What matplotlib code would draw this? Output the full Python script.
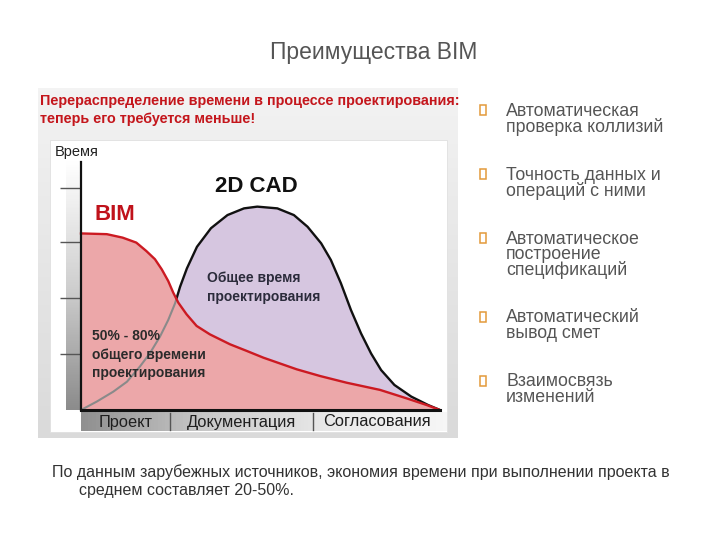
import numpy as np
import matplotlib
matplotlib.use("Agg")
import matplotlib.pyplot as plt
import matplotlib.transforms as mtrans
from matplotlib.patches import Rectangle
from matplotlib.colors import LinearSegmentedColormap

# ---------------- data ----------------
bim_x = [0.0, 7.2, 11.6, 15.4, 18.2, 20.6, 22.5, 24.3, 25.7, 27.1, 29.4, 32.2, 35.9,
         41.5, 46.2, 50.8, 60.1, 66.6, 74.0, 83.3, 90.7, 96.3, 100.0]
bim_y = [71.2, 70.9, 69.5, 67.5, 64.1, 60.8, 56.7, 52.0, 47.3, 43.3, 38.6, 33.9, 30.5,
         26.5, 23.8, 21.1, 16.4, 13.7, 11.0, 8.1, 4.7, 2.0, 0.0]

cad_x = [0.0, 4.4, 9.0, 12.8, 16.4, 19.2, 22.0, 24.3, 26.2, 27.6, 29.5, 32.3, 36.2,
         40.8, 45.4, 49.1, 54.7, 59.3, 63.1, 66.9, 69.6, 72.4, 75.2, 78.0, 80.8,
         83.6, 87.3, 92.0, 96.7, 100.0]
cad_y = [0.0, 3.4, 7.4, 11.4, 17.5, 22.9, 29.6, 36.3, 43.0, 49.7, 57.1, 65.8, 73.3,
         78.6, 81.3, 82.0, 81.3, 78.6, 73.9, 67.2, 60.5, 51.1, 40.3, 30.9, 22.8,
         16.1, 10.1, 5.4, 2.0, 0.0]

phases = ["Проект", "Документация", "Согласования"]
phase_edges = [0.0, 24.8, 64.6, 100.0]
tick_levels = [22.6, 45.2, 67.7, 89.5]

title = "Преимущества BIM"
header = ["Перераспределение времени в процессе проектирования:",
          "теперь его требуется меньше!"]
bullets = ["Автоматическая\nпроверка коллизий",
           "Точность данных и\nопераций с ними",
           "Автоматическое\nпостроение\nспецификаций",
           "Автоматический\nвывод смет",
           "Взаимосвязь\nизменений"]
bullet_y = [110, 174, 238, 317, 381]
footer = ["По данным зарубежных источников, экономия времени при выполнении проекта в",
          "среднем составляет 20-50%."]

# ---------------- figure ----------------
W, H = 720, 540
fig = plt.figure(figsize=(7.2, 5.4), dpi=100)
fig.patch.set_facecolor("white")

bg = fig.add_axes([0, 0, 1, 1])
bg.set_xlim(0, W)
bg.set_ylim(H, 0)
bg.axis("off")

sans = ["Liberation Sans", "DejaVu Sans"]

# title
bg.text(374, 52, title, ha="center", va="center", fontsize=16.5, color="#555555",
        family=sans)

# embedded picture background
grad = np.linspace(0, 1, 100).reshape(-1, 1)
cm_bg = LinearSegmentedColormap.from_list("bgc", ["#f3f3f3", "#e6e6e6", "#dadada"])
bg.imshow(grad, extent=(38, 458, 438, 88), cmap=cm_bg, aspect="auto", zorder=0)
bg.add_patch(Rectangle((50, 140), 397, 292, facecolor="white", edgecolor="#e0e0e0",
                       lw=0.6, zorder=1))

for i, line in enumerate(header):
    bg.text(40, 101 + 17.5 * i, line, ha="left", va="center", fontsize=10.4,
            fontweight="bold", color="#c4161c", family=sans, zorder=2)

# gradient bar left of y axis
grad_v = np.linspace(0, 1, 100).reshape(-1, 1)
cm_v = LinearSegmentedColormap.from_list("v", ["#ffffff", "#d0d0d0", "#8c8c8c"])
bg.imshow(grad_v, extent=(66, 81, 410, 160), cmap=cm_v, aspect="auto", zorder=1.5)

# bottom phase bar
grad_h = np.linspace(0, 1, 100).reshape(1, -1)
cm_h = LinearSegmentedColormap.from_list("h", ["#909090", "#c8c8c8", "#e8e8e8", "#f6f6f6"])
bg.imshow(grad_h, extent=(81, 447, 431, 412), cmap=cm_h, aspect="auto", zorder=1.5)

bg.text(55, 152, "Время", ha="left", va="center", fontsize=10.5, color="#222222",
        family=sans, zorder=2)

# ---------------- chart axes ----------------
x0, x1, yb, yt = 81, 440, 410, 162
ax = fig.add_axes([x0 / W, (H - yb) / H, (x1 - x0) / W, (yb - yt) / H])
ax.set_xlim(0, 100)
ax.set_ylim(0, 100)
ax.patch.set_alpha(0)
for s in ["top", "right"]:
    ax.spines[s].set_visible(False)
ax.spines["left"].set_linewidth(1.6)
ax.spines["bottom"].set_linewidth(2.2)
ax.spines["left"].set_color("#111111")
ax.spines["bottom"].set_color("#111111")
ax.spines["left"].set_zorder(6)
ax.spines["bottom"].set_zorder(6)
ax.set_xticks([])
ax.set_yticks(tick_levels)
ax.tick_params(axis="y", length=15, width=1.0, color="#555555", labelleft=False)

ax.fill_between(cad_x, 0, cad_y, color="#d6c6e0", lw=0, zorder=1)
ax.plot(cad_x, cad_y, color="#111111", lw=1.7, zorder=2, solid_capstyle="round")
bim_fill = ax.fill_between(bim_x, 0, bim_y, color="#eca7a9", lw=0, zorder=3)
gray_line, = ax.plot(cad_x, cad_y, color="#8a8a8a", lw=1.5, zorder=4)
gray_line.set_clip_path(bim_fill.get_paths()[0], transform=ax.transData)
ax.plot(bim_x, bim_y, color="#cc1a22", lw=1.7, zorder=5, clip_on=False)

# text labels inside chart (pixel positions, drawn on the chart axes)
pt = bg.transData
ax.text(256, 186, "2D CAD", ha="center", va="center", fontsize=16, fontweight="bold",
        color="#111111", family=sans, zorder=10, transform=pt, clip_on=False)
ax.text(115, 214, "BIM", ha="center", va="center", fontsize=16, fontweight="bold",
        color="#c0121b", family=sans, zorder=10, transform=pt, clip_on=False)
ax.text(207, 287.5, "Общее время\nпроектирования", ha="left", va="center",
        fontsize=10, fontweight="bold", color="#2b2b3b", family=sans,
        linespacing=1.4, zorder=10, transform=pt, clip_on=False)
ax.text(92, 354.5, "50% - 80%\nобщего времени\nпроектирования", ha="left",
        va="center", fontsize=10, fontweight="bold", color="#2b2b2b", family=sans,
        linespacing=1.4, zorder=10, transform=pt, clip_on=False)

# phase labels and separators (data x via chart transform)
trans_xdata = mtrans.blended_transform_factory(ax.transData, bg.transData)
for i, name in enumerate(phases):
    xc = (phase_edges[i] + phase_edges[i + 1]) / 2
    bg.text(xc, 422, name, ha="center", va="center", fontsize=11.8, color="#1e1e1e",
            family=sans, transform=trans_xdata, zorder=10)
for e in phase_edges[1:-1]:
    bg.plot([e, e], [413, 430], color="#555555", lw=1.0, transform=trans_xdata,
            zorder=10)

# ---------------- bullets ----------------
for yv, txt in zip(bullet_y, bullets):
    bg.add_patch(Rectangle((480, yv - 5), 6, 10, facecolor="none",
                           edgecolor="#e39a3b", lw=1.1, zorder=10))
    bg.text(506, yv - 7.5, txt, ha="left", va="top", fontsize=12.8, color="#555555",
            family=sans, linespacing=0.86, zorder=10)

# ---------------- footer ----------------
bg.text(52, 472, footer[0], ha="left", va="center", fontsize=11.5, color="#333333",
        family=sans)
bg.text(79, 490, footer[1], ha="left", va="center", fontsize=11.5, color="#333333",
        family=sans)

fig.savefig("out.png", dpi=100)
